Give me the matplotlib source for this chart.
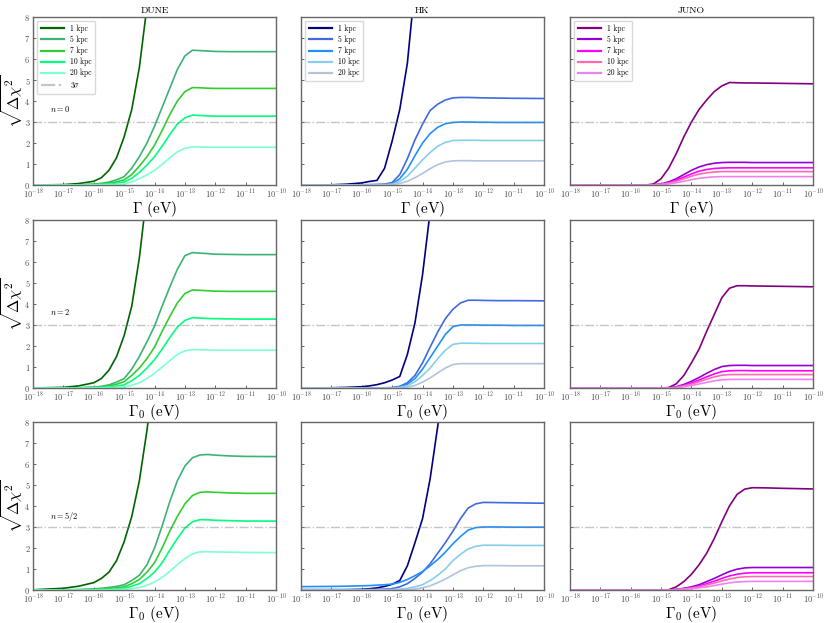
import numpy as np
import matplotlib
matplotlib.use("Agg")
import matplotlib.pyplot as plt

plt.rcParams['font.family'] = 'serif'
plt.rcParams['font.serif'] = ['cmr10']
plt.rcParams['mathtext.fontset'] = 'cm'
plt.rcParams['axes.formatter.use_mathtext'] = True

nan = np.nan

# log10 of Gamma (eV), shared grid for every curve
log_gamma = [-18, -17, -16.5, -16, -15.75, -15.5, -15.25, -15, -14.75, -14.5, -14.25, -14,
             -13.75, -13.5, -13.25, -13, -12.75, -12.5, -12.25, -12, -11.5, -11, -10]

distances = ['1 kpc', '5 kpc', '7 kpc', '10 kpc', '20 kpc']
detectors = ['DUNE', 'HK', 'JUNO']
n_labels = [r'$n=0$', r'$n=2$', r'$n=5/2$']
x_labels = [r'$\Gamma$ (eV)', r'$\Gamma_0$ (eV)', r'$\Gamma_0$ (eV)']

dune_colors = ['darkgreen', 'mediumseagreen', 'limegreen', 'springgreen', 'aquamarine']
hk_colors = ['navy', 'royalblue', 'dodgerblue', 'skyblue', 'lightsteelblue']
juno_colors = ['purple', 'darkviolet', 'magenta', 'hotpink', 'violet']

# sqrt(delta chi^2), n = 0
dune_n0 = [
    [0, 0.02, 0.07, 0.18, 0.35, 0.7, 1.3, 2.3, 3.6, 5.6, 8.5, nan, nan, nan, nan, nan, nan, nan, nan, nan, nan, nan, nan],
    [0, 0, 0.01, 0.04, 0.08, 0.14, 0.25, 0.4, 0.8, 1.35, 2.0, 2.8, 3.7, 4.6, 5.5, 6.15, 6.42, 6.4, 6.38, 6.36, 6.35, 6.35, 6.35],
    [0, 0, 0.01, 0.03, 0.05, 0.09, 0.15, 0.25, 0.5, 0.9, 1.35, 1.9, 2.6, 3.35, 4.0, 4.45, 4.64, 4.63, 4.61, 4.6, 4.6, 4.6, 4.6],
    [0, 0, 0, 0.02, 0.03, 0.05, 0.09, 0.15, 0.32, 0.6, 0.95, 1.35, 1.85, 2.4, 2.9, 3.2, 3.33, 3.31, 3.29, 3.28, 3.28, 3.28, 3.28],
    [0, 0, 0, 0.01, 0.01, 0.02, 0.03, 0.05, 0.15, 0.3, 0.48, 0.7, 0.98, 1.3, 1.58, 1.75, 1.82, 1.81, 1.8, 1.8, 1.8, 1.8, 1.8],
]
hk_n0 = [
    [0, 0.01, 0.04, 0.1, 0.17, 0.22, 0.8, 2.1, 3.6, 5.8, 9.5, nan, nan, nan, nan, nan, nan, nan, nan, nan, nan, nan, nan],
    [0, 0, 0, 0.01, 0.02, 0.03, 0.04, 0.12, 0.5, 1.25, 2.15, 2.9, 3.55, 3.85, 4.05, 4.15, 4.17, 4.17, 4.16, 4.15, 4.14, 4.13, 4.12],
    [0, 0, 0, 0, 0.01, 0.01, 0.02, 0.07, 0.3, 0.75, 1.4, 2.0, 2.45, 2.75, 2.92, 2.98, 3.0, 3.0, 2.99, 2.99, 2.98, 2.98, 2.98],
    [0, 0, 0, 0, 0, 0.01, 0.01, 0.04, 0.17, 0.42, 0.8, 1.2, 1.55, 1.85, 2.03, 2.12, 2.13, 2.13, 2.13, 2.12, 2.12, 2.12, 2.12],
    [0, 0, 0, 0, 0, 0, 0.01, 0.02, 0.07, 0.18, 0.35, 0.55, 0.78, 0.97, 1.1, 1.15, 1.16, 1.16, 1.15, 1.15, 1.15, 1.15, 1.15],
]
juno_n0 = [
    [0, 0, 0, 0, 0, 0, 0.05, 0.3, 0.8, 1.5, 2.3, 3.0, 3.6, 4.05, 4.45, 4.72, 4.88, 4.87, 4.86, 4.86, 4.85, 4.84, 4.82],
    [0, 0, 0, 0, 0, 0, 0.01, 0.05, 0.15, 0.3, 0.5, 0.7, 0.86, 0.97, 1.04, 1.07, 1.08, 1.08, 1.08, 1.07, 1.07, 1.07, 1.07],
    [0, 0, 0, 0, 0, 0, 0.01, 0.04, 0.11, 0.23, 0.38, 0.53, 0.66, 0.74, 0.79, 0.81, 0.82, 0.82, 0.82, 0.82, 0.82, 0.82, 0.82],
    [0, 0, 0, 0, 0, 0, 0.01, 0.03, 0.09, 0.18, 0.3, 0.42, 0.52, 0.58, 0.62, 0.64, 0.64, 0.64, 0.64, 0.64, 0.64, 0.64, 0.64],
    [0, 0, 0, 0, 0, 0, 0, 0.02, 0.05, 0.11, 0.18, 0.26, 0.32, 0.36, 0.39, 0.4, 0.4, 0.4, 0.4, 0.4, 0.4, 0.4, 0.4],
]

# n = 2
dune_n2 = [
    [0, 0.03, 0.1, 0.25, 0.45, 0.85, 1.5, 2.5, 3.9, 6.2, 9.3, nan, nan, nan, nan, nan, nan, nan, nan, nan, nan, nan, nan],
    [0, 0, 0.01, 0.04, 0.08, 0.15, 0.28, 0.45, 0.9, 1.5, 2.2, 2.95, 3.9, 4.8, 5.65, 6.3, 6.45, 6.42, 6.4, 6.37, 6.36, 6.35, 6.35],
    [0, 0, 0.01, 0.03, 0.05, 0.1, 0.18, 0.3, 0.6, 0.95, 1.4, 1.95, 2.7, 3.4, 4.05, 4.5, 4.67, 4.65, 4.63, 4.61, 4.6, 4.6, 4.6],
    [0, 0, 0, 0.02, 0.03, 0.05, 0.09, 0.15, 0.35, 0.6, 0.95, 1.35, 1.85, 2.4, 2.9, 3.22, 3.35, 3.33, 3.31, 3.3, 3.29, 3.28, 3.28],
    [0, 0, 0, 0.01, 0.01, 0.02, 0.03, 0.05, 0.13, 0.25, 0.45, 0.7, 1.0, 1.3, 1.6, 1.77, 1.83, 1.82, 1.81, 1.8, 1.8, 1.8, 1.8],
]
hk_n2 = [
    [0, 0.01, 0.03, 0.06, 0.1, 0.16, 0.25, 0.38, 0.55, 1.6, 3.1, 5.4, 8.4, nan, nan, nan, nan, nan, nan, nan, nan, nan, nan],
    [0, 0, 0, 0, 0, 0, 0.01, 0.02, 0.08, 0.25, 0.6, 1.2, 1.95, 2.67, 3.3, 3.75, 4.05, 4.18, 4.18, 4.17, 4.16, 4.16, 4.15],
    [0, 0, 0, 0, 0, 0, 0, 0.01, 0.06, 0.18, 0.45, 0.9, 1.45, 2.0, 2.55, 2.92, 3.0, 3.0, 3.0, 2.99, 2.99, 2.98, 2.98],
    [0, 0, 0, 0, 0, 0, 0, 0, 0.03, 0.1, 0.3, 0.6, 0.95, 1.4, 1.8, 2.08, 2.13, 2.13, 2.13, 2.12, 2.12, 2.12, 2.12],
    [0, 0, 0, 0, 0, 0, 0, 0, 0.01, 0.04, 0.12, 0.28, 0.48, 0.72, 0.95, 1.12, 1.16, 1.16, 1.16, 1.16, 1.16, 1.16, 1.16],
]
juno_n2 = [
    [0, 0, 0, 0, 0, 0, 0, 0, 0.02, 0.2, 0.6, 1.2, 1.85, 2.7, 3.5, 4.3, 4.75, 4.87, 4.87, 4.86, 4.85, 4.84, 4.82],
    [0, 0, 0, 0, 0, 0, 0, 0, 0.01, 0.06, 0.17, 0.32, 0.5, 0.7, 0.88, 1.02, 1.07, 1.08, 1.08, 1.07, 1.07, 1.07, 1.07],
    [0, 0, 0, 0, 0, 0, 0, 0, 0, 0.04, 0.13, 0.24, 0.38, 0.53, 0.67, 0.78, 0.82, 0.83, 0.83, 0.82, 0.82, 0.82, 0.82],
    [0, 0, 0, 0, 0, 0, 0, 0, 0, 0.03, 0.1, 0.19, 0.3, 0.42, 0.53, 0.61, 0.64, 0.64, 0.64, 0.64, 0.64, 0.64, 0.64],
    [0, 0, 0, 0, 0, 0, 0, 0, 0, 0.02, 0.06, 0.12, 0.19, 0.27, 0.34, 0.39, 0.41, 0.41, 0.41, 0.41, 0.41, 0.41, 0.41],
]

# n = 5/2
dune_n52 = [
    [0.01, 0.08, 0.18, 0.35, 0.55, 0.85, 1.4, 2.3, 3.5, 5.2, 7.6, 10.5, nan, nan, nan, nan, nan, nan, nan, nan, nan, nan, nan],
    [0, 0.01, 0.02, 0.05, 0.08, 0.12, 0.17, 0.25, 0.45, 0.7, 1.2, 2.0, 3.05, 4.2, 5.2, 5.9, 6.3, 6.43, 6.45, 6.42, 6.38, 6.36, 6.35],
    [0, 0, 0.01, 0.03, 0.05, 0.07, 0.1, 0.15, 0.3, 0.5, 0.85, 1.3, 2.0, 2.8, 3.5, 4.1, 4.5, 4.65, 4.67, 4.65, 4.62, 4.6, 4.6],
    [0, 0, 0, 0.01, 0.02, 0.03, 0.05, 0.08, 0.18, 0.3, 0.55, 0.85, 1.3, 1.9, 2.45, 2.95, 3.25, 3.35, 3.34, 3.32, 3.3, 3.28, 3.28],
    [0, 0, 0, 0, 0.01, 0.01, 0.02, 0.03, 0.07, 0.12, 0.22, 0.38, 0.6, 0.88, 1.2, 1.5, 1.72, 1.82, 1.82, 1.81, 1.8, 1.79, 1.78],
]
hk_n52 = [
    [0, 0.005, 0.01, 0.03, 0.06, 0.1, 0.17, 0.27, 0.45, 1.15, 2.25, 3.4, 5.3, 7.8, 10.5, nan, nan, nan, nan, nan, nan, nan, nan],
    [0.02, 0.02, 0.02, 0.02, 0.03, 0.03, 0.04, 0.06, 0.15, 0.3, 0.55, 0.85, 1.25, 1.75, 2.25, 2.8, 3.4, 3.9, 4.1, 4.17, 4.16, 4.15, 4.13],
    [0.16, 0.17, 0.18, 0.2, 0.21, 0.23, 0.25, 0.28, 0.36, 0.5, 0.68, 0.88, 1.15, 1.45, 1.8, 2.2, 2.55, 2.85, 2.97, 3.0, 3.0, 2.99, 2.99],
    [0.01, 0.01, 0.01, 0.01, 0.01, 0.01, 0.01, 0.02, 0.04, 0.08, 0.15, 0.25, 0.45, 0.7, 1.0, 1.4, 1.7, 1.95, 2.08, 2.13, 2.13, 2.12, 2.12],
    [0, 0, 0, 0, 0, 0, 0, 0, 0.01, 0.02, 0.05, 0.1, 0.2, 0.35, 0.52, 0.72, 0.92, 1.06, 1.13, 1.16, 1.16, 1.15, 1.15],
]
juno_n52 = [
    [0, 0, 0, 0, 0, 0, 0, 0, 0.01, 0.15, 0.4, 0.75, 1.2, 1.75, 2.45, 3.25, 4.0, 4.55, 4.8, 4.87, 4.86, 4.84, 4.81],
    [0, 0, 0, 0, 0, 0, 0, 0, 0, 0.03, 0.08, 0.15, 0.25, 0.4, 0.55, 0.72, 0.88, 0.99, 1.05, 1.07, 1.07, 1.07, 1.07],
    [0, 0, 0, 0, 0, 0, 0, 0, 0, 0.02, 0.06, 0.11, 0.19, 0.3, 0.42, 0.55, 0.67, 0.75, 0.8, 0.82, 0.82, 0.82, 0.82],
    [0, 0, 0, 0, 0, 0, 0, 0, 0, 0.02, 0.05, 0.09, 0.15, 0.24, 0.33, 0.43, 0.52, 0.59, 0.63, 0.64, 0.64, 0.64, 0.64],
    [0, 0, 0, 0, 0, 0, 0, 0, 0, 0.01, 0.03, 0.06, 0.1, 0.15, 0.21, 0.28, 0.34, 0.38, 0.4, 0.41, 0.41, 0.41, 0.41],
]

sigma3 = 3.0
n_text_pos = [(10**-17.45, 3.6), (10**-17.45, 3.6), (10**-17.45, 3.5)]

panels = [[dune_n0, hk_n0, juno_n0],
          [dune_n2, hk_n2, juno_n2],
          [dune_n52, hk_n52, juno_n52]]
colors = [dune_colors, hk_colors, juno_colors]

fig = plt.figure(figsize=(8.3, 6.23), dpi=100)
lefts = [0.0398, 0.3627, 0.6867]
bottoms = [0.703, 0.3772, 0.053]
w, h = 0.2928, 0.2697

gamma = 10.0 ** np.array(log_gamma)

for r in range(3):
    for c in range(3):
        ax = fig.add_axes([lefts[c], bottoms[r], w, h])
        for k in range(5):
            ax.plot(gamma, panels[r][c][k], color=colors[c][k], lw=1.2, label=distances[k])
        ax.axhline(sigma3, color='gray', alpha=0.45, ls='-.', lw=1.0,
                   label=r'$3\sigma$' if c == 0 else None)
        ax.set_xscale('log')
        ax.set_xlim(1e-18, 1e-10)
        ax.set_ylim(0, 8)
        ax.set_xticks([10.0 ** e for e in range(-18, -9)])
        ax.minorticks_off()
        ax.set_yticks(range(9))
        ax.tick_params(direction='in', labelsize=6, length=2.5, width=0.6, colors='0.3', pad=2)
        for s in ax.spines.values():
            s.set_color('0.4')
            s.set_linewidth(1.0)
        if c > 0:
            ax.set_yticklabels([])
        else:
            ax.set_ylabel(r'$\sqrt{\Delta\chi^2}$', fontsize=11.5)
            ax.yaxis.set_label_coords(-0.033, 0.5)
            ax.text(*n_text_pos[r], n_labels[r], fontsize=6, va='center')
        ax.set_xlabel(x_labels[r], fontsize=11, labelpad=-1)
        if r == 0:
            ax.set_title(detectors[c], fontsize=7, pad=3)
            leg = ax.legend(loc='upper left', fontsize=5.5, handlelength=3.0, borderpad=0.5,
                            labelspacing=0.35, framealpha=1.0, edgecolor='0.85', fancybox=True)
            for line in leg.get_lines():
                line.set_linewidth(1.6)

fig.savefig('out.png', dpi=100)
